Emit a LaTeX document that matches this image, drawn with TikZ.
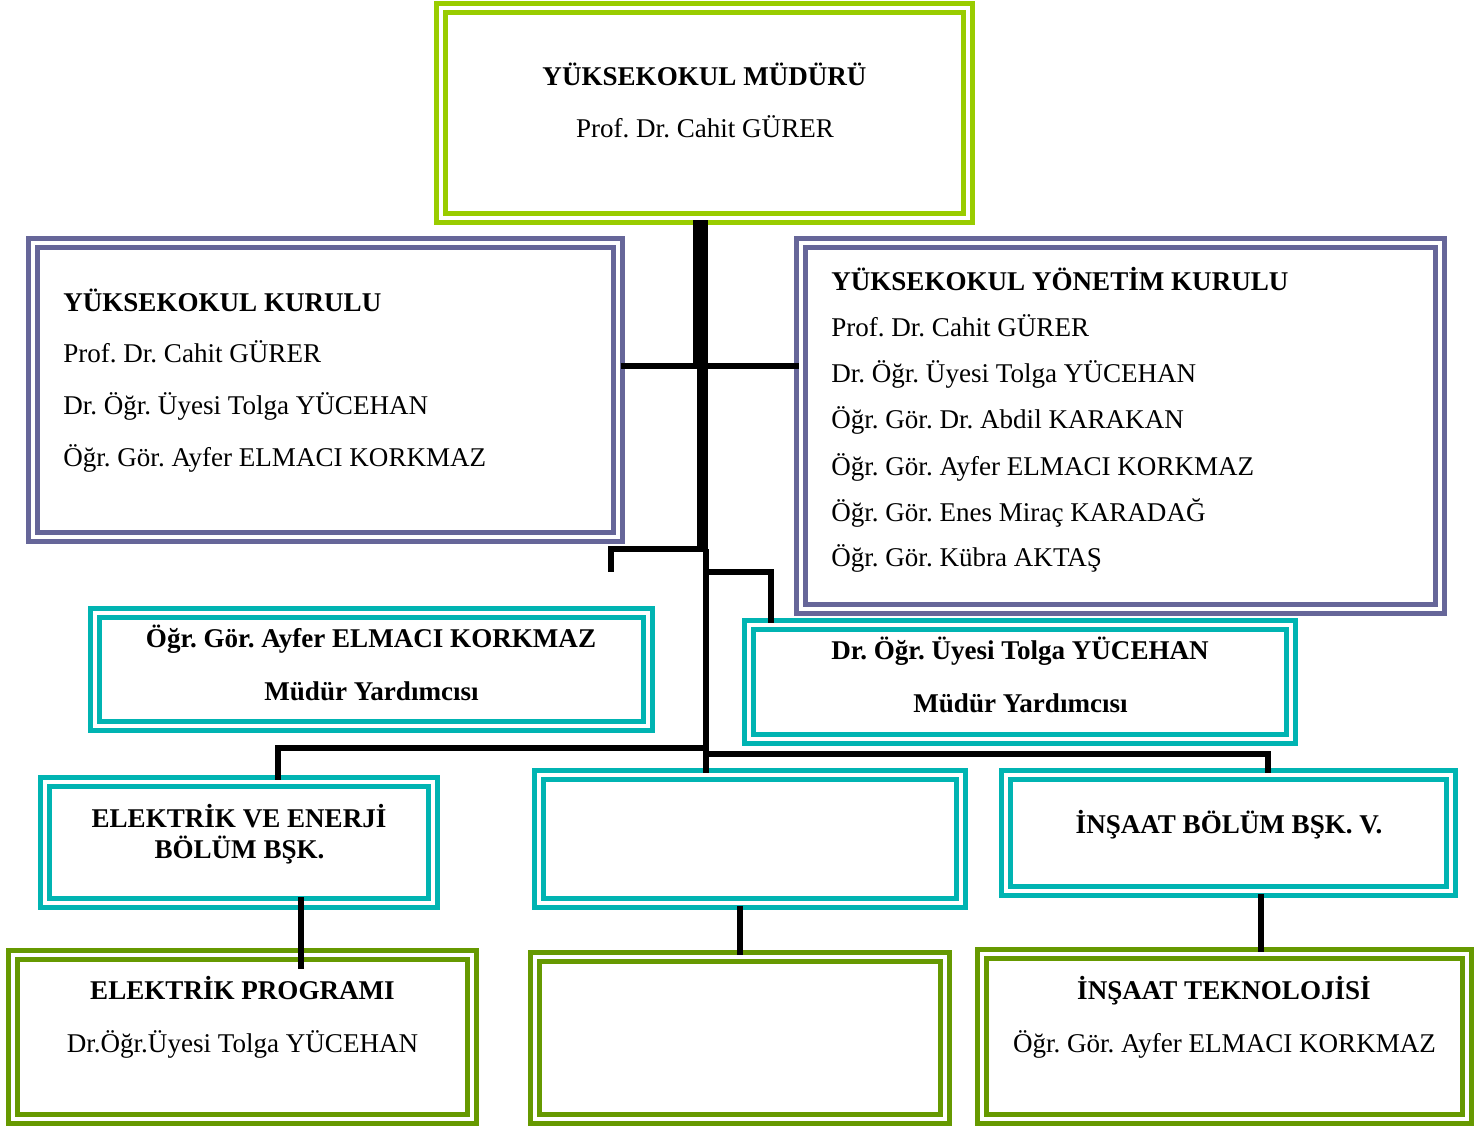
\documentclass[tikz,border=0pt]{standalone}
\usepackage{fontspec}
\setmainfont{Liberation Serif}
\usepackage{xcolor}
\usepackage{tikz}
\usetikzlibrary{positioning}
\frenchspacing

\definecolor{mudurgreen}{RGB}{153,204,0}
\definecolor{kurulpurple}{RGB}{102,102,153}
\definecolor{yrdteal}{RGB}{0,180,178}
\definecolor{progolive}{RGB}{102,153,0}

\tikzset{
  dbox/.style 2 args={draw, double=white, line width=3.75pt, double distance=3pt,
    minimum width=#1*0.75pt, minimum height=#2*0.75pt, inner sep=0pt},
  txt/.style={inner sep=0pt, font=\fontsize{20.3}{24}\selectfont},
  btxt/.style={inner sep=0pt, font=\fontsize{20.3}{24}\selectfont\bfseries},
  link/.style={line width=4.5pt, line join=miter}
}

\begin{document}
\begin{tikzpicture}[x=0.75pt, y=-0.75pt]
    \useasboundingbox (0,0) rectangle (1484,1126);

    % Kutular
    \node[dbox={527}{210}, draw=mudurgreen] (mudur) at (704.5,113) {};
    \node[dbox={585}{294}, draw=kurulpurple] (kurul) at (325.5,390) {};
    \node[dbox={639}{366}, draw=kurulpurple] (yonet) at (1120.5,426) {};
    \node[dbox={553}{113}, draw=yrdteal] (lmy) at (371.5,669.5) {};
    \node[dbox={542}{114}, draw=yrdteal] (rmy) at (1020,682) {};
    \node[dbox={388}{121}, draw=yrdteal] (ebb) at (239,842.5) {};
    \node[dbox={422}{128}, draw=yrdteal] (mid) at (750,839) {};
    \node[dbox={445}{116}, draw=yrdteal] (ins) at (1228.5,833) {};
    \node[dbox={459}{164}, draw=progolive] (prog) at (242.5,1037) {};
    \node[dbox={410}{162}, draw=progolive] (midg) at (740,1038) {};
    \node[dbox={485}{165}, draw=progolive] (itek) at (1224.5,1036.5) {};

    % Yazilar
    \node[btxt, anchor=base] (mudurT) at (704.5,86) {YÜKSEKOKUL MÜDÜRÜ};
    \node[txt, anchor=base] (mudurN) at (705,138) {Prof. Dr. Cahit GÜRER};

    \node[btxt, anchor=base west] (kurulT) at (63,312) {YÜKSEKOKUL KURULU};
    \node[txt, anchor=base west] (kurul1) at (63,363) {Prof. Dr. Cahit GÜRER};
    \node[txt, anchor=base west] (kurul2) at (63,415) {Dr. Öğr. Üyesi Tolga YÜCEHAN};
    \node[txt, anchor=base west] (kurul3) at (63,466) {Öğr. Gör. Ayfer ELMACI KORKMAZ};

    \node[btxt, anchor=base west] (yonetT) at (831,291) {YÜKSEKOKUL YÖNETİM KURULU};
    \node[txt, anchor=base west] (yonet1) at (831,337) {Prof. Dr. Cahit GÜRER};
    \node[txt, anchor=base west] (yonet2) at (831,383) {Dr. Öğr. Üyesi Tolga YÜCEHAN};
    \node[txt, anchor=base west] (yonet3) at (831,429) {Öğr. Gör. Dr. Abdil KARAKAN};
    \node[txt, anchor=base west] (yonet4) at (831,475) {Öğr. Gör. Ayfer ELMACI KORKMAZ};
    \node[txt, anchor=base west] (yonet5) at (831,521) {Öğr. Gör. Enes Miraç KARADAĞ};
    \node[txt, anchor=base west] (yonet6) at (831,566) {Öğr. Gör. Kübra AKTAŞ};

    \node[btxt, anchor=base] (lmyN) at (371,647) {Öğr. Gör. Ayfer ELMACI KORKMAZ};
    \node[btxt, anchor=base] (lmyT) at (371.5,700) {Müdür Yardımcısı};
    \node[btxt, anchor=base] (rmyN) at (1020,659) {Dr. Öğr. Üyesi Tolga YÜCEHAN};
    \node[btxt, anchor=base] (rmyT) at (1020.5,712) {Müdür Yardımcısı};

    \node[btxt, anchor=base] (ebbT1) at (239,827) {ELEKTRİK VE ENERJİ};
    \node[btxt, anchor=base] (ebbT2) at (239.5,858) {BÖLÜM BŞK.};
    \node[btxt, anchor=base] (insT) at (1229,833) {İNŞAAT BÖLÜM BŞK. V.};

    \node[btxt, anchor=base] (progT) at (242.5,999) {ELEKTRİK PROGRAMI};
    \node[txt, anchor=base] (progN) at (242.5,1052) {Dr.Öğr.Üyesi Tolga YÜCEHAN};
    \node[btxt, anchor=base] (itekT) at (1224,999) {İNŞAAT TEKNOLOJİSİ};
    \node[txt, anchor=base] (itekN) at (1224.5,1052) {Öğr. Gör. Ayfer ELMACI KORKMAZ};

    % Ana hat
    \coordinate (t1) at (700.5,366);
    \coordinate (t2) at (702.5,549);
    \coordinate (t3) at (705.5,549);
    \draw[line width=11.25pt] (mudur.south -| t1) -- (t1);
    \draw[line width=8.25pt] (t1 -| t2) -- (t2);
    \draw[link] (t3) -- (mid.north -| t3);

    % Kurullar
    \draw[link] (kurul.east |- t1) -- (yonet.west |- t1);

    % Mudur yardimcilari
    \coordinate (lmyend) at (611,572);
    \draw[link] (t2) -| (lmyend);
    \coordinate (r1) at (705.5,572);
    \coordinate (r2) at (771,572);
    \draw[link] (r1) -- (r2) -- (r2 |- rmy.north);

    % Bolumler
    \coordinate (b1) at (705.5,747.5);
    \coordinate (eL) at (278,747.5);
    \draw[link] (b1) -- (eL) -- (eL |- ebb.north);
    \coordinate (b2) at (705.5,754);
    \coordinate (iR) at (1267.5,754);
    \draw[link] (b2) -- (iR) -- (iR |- ins.north);

    % Programlar
    \coordinate (pL) at (301,900);
    \coordinate (pM) at (740,900);
    \coordinate (pR) at (1261,900);
    \draw[link, shorten <=-6.4pt, shorten >=-12.4pt] (ebb.south -| pL) -- (prog.north -| pL);
    \draw[link] (mid.south -| pM) -- (midg.north -| pM);
    \draw[link] (ins.south -| pR) -- (itek.north -| pR);
\end{tikzpicture}
\end{document}
